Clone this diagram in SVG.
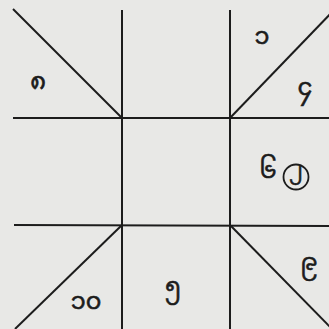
<svg xmlns="http://www.w3.org/2000/svg" width="329" height="329" viewBox="0 0 329 329">
<style>
.ln{stroke:#1c1c1c;stroke-width:2;fill:none;stroke-linecap:butt}
.t{font-family:"Noto Sans Myanmar","Padauk","Myanmar Text","Noto Sans",sans-serif;font-size:24px;fill:#1c1c1c;stroke:#1c1c1c;stroke-width:0.6;text-anchor:middle}
</style>
<rect width="329" height="329" fill="#e8e8e6"/>
<g id="connectors">
<line class="ln" x1="122" y1="10" x2="122" y2="329"/>
<line class="ln" x1="230" y1="10" x2="230" y2="329"/>
<line class="ln" x1="13" y1="118" x2="329" y2="118"/>
<line class="ln" x1="14" y1="225" x2="329" y2="226"/>
<line class="ln" x1="13" y1="9" x2="122" y2="118"/>
<line class="ln" x1="230" y1="118" x2="335" y2="9"/>
<line class="ln" x1="122" y1="225" x2="15" y2="329"/>
<line class="ln" x1="231" y1="226" x2="334" y2="331"/>
</g>
<g id="n8"><text class="t" x="38" y="89">၈</text></g>
<g id="n1"><text class="t" x="262" y="44">၁</text></g>
<g id="n4"><text class="t" x="305" y="95">၄</text></g>
<g id="n6"><text class="t" x="268" y="178">၆</text><circle cx="296" cy="177" r="12.5" fill="none" stroke="#1c1c1c" stroke-width="1.8"/><text class="t" x="296" y="176" style="font-size:20px">၂</text></g>
<g id="n9"><text class="t" x="309" y="270">၉</text></g>
<g id="n5"><text class="t" x="173" y="294">၅</text></g>
<g id="n10"><text class="t" x="86" y="309">၁၀</text></g>
</svg>
